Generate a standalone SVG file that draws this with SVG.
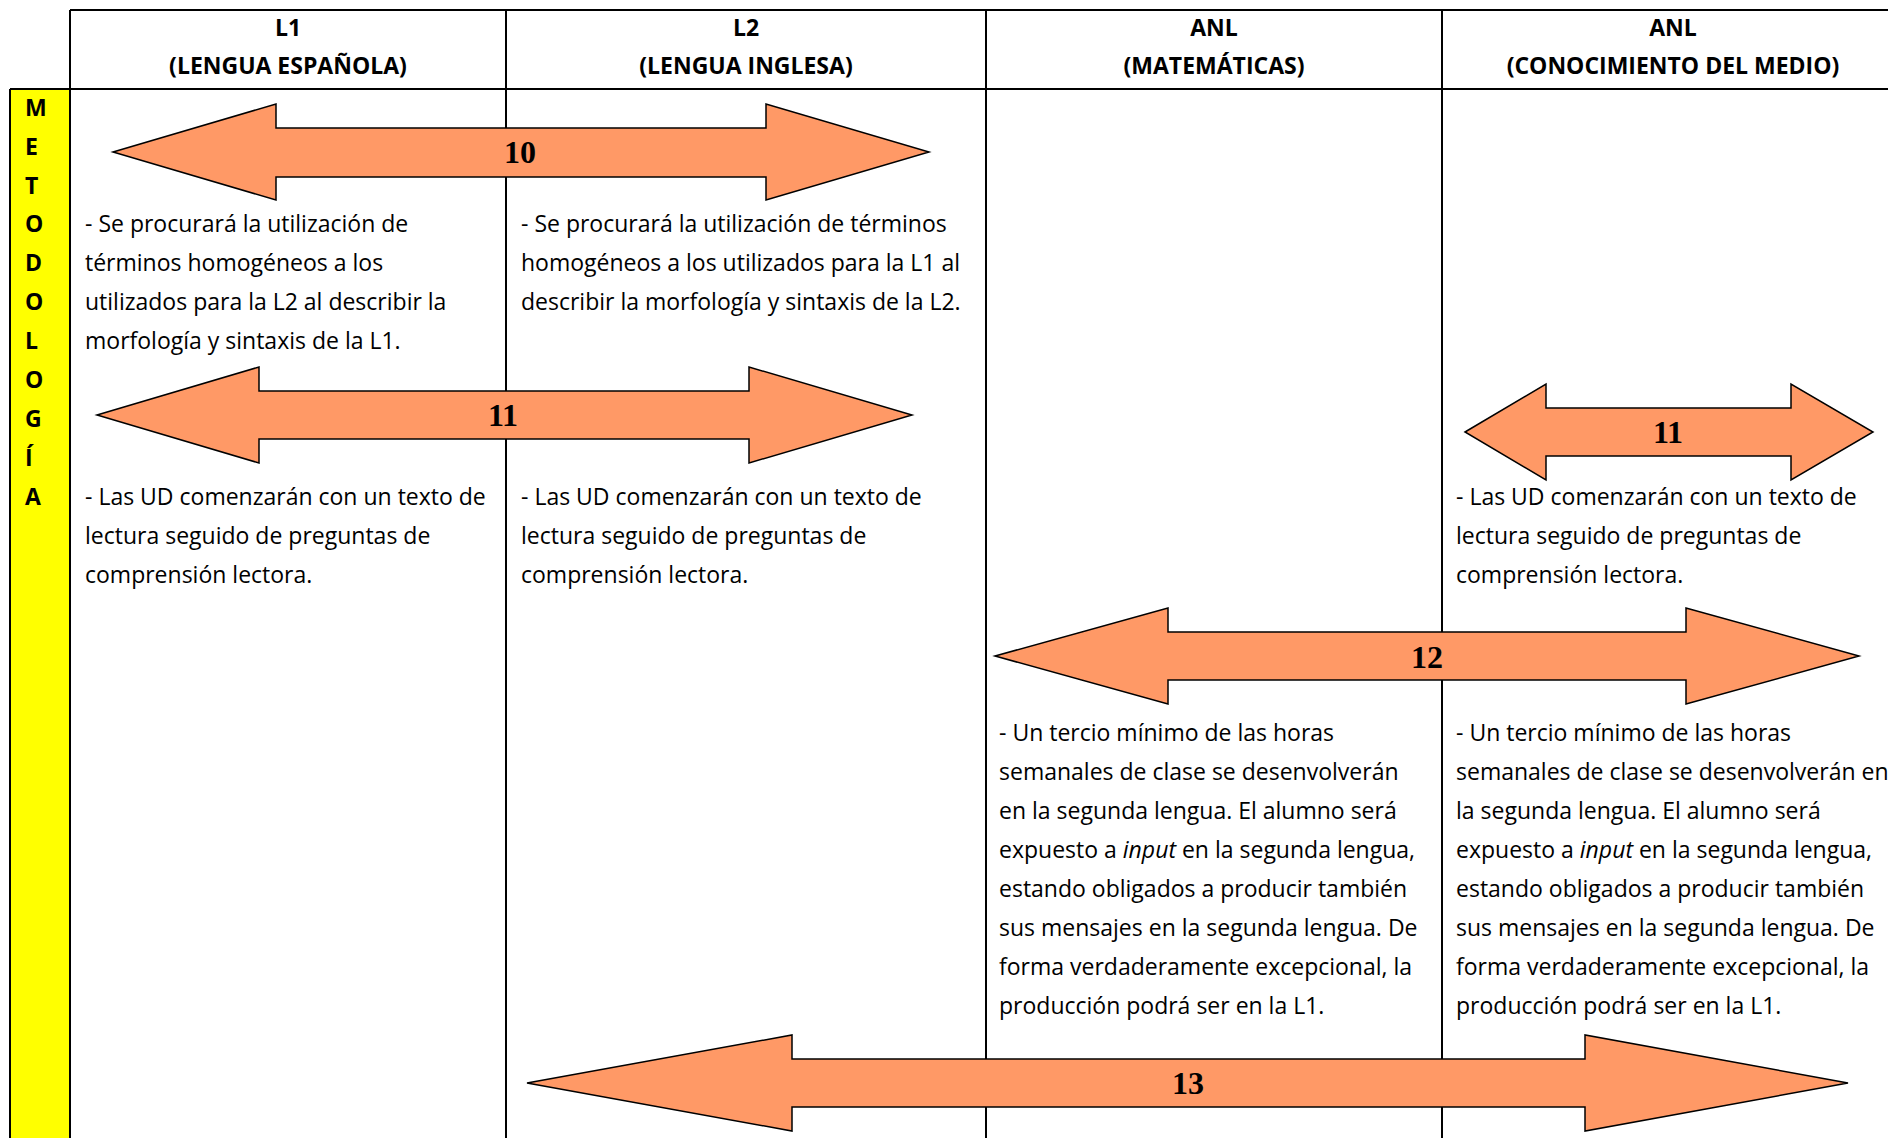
<svg xmlns="http://www.w3.org/2000/svg" width="1888" height="1138" viewBox="0 0 1888 1138">
<style>
.grid{stroke:#000;stroke-width:2;fill:none}
.hdr{font-family:'Open Sans','Noto Sans',sans-serif;font-weight:bold;font-size:23px;fill:#000;text-anchor:middle}
.vl{font-family:'Open Sans','Noto Sans',sans-serif;font-weight:bold;font-size:23px;fill:#000}
.body{font-family:'Open Sans','Noto Sans',sans-serif;font-size:23px;fill:#000}
.arrow{fill:#FF9966;stroke:#000;stroke-width:1.5;stroke-linejoin:miter}
.num{font-family:'Liberation Serif','Times New Roman',serif;font-weight:bold;font-size:32px;fill:#000;text-anchor:middle}
</style>
<rect width="1888" height="1138" fill="#fff"/>
<g id="table">
  <rect id="yellow-col" x="10" y="89" width="60" height="1060" fill="#FFFF00"/>
  <line class="grid" x1="70" y1="10" x2="1888" y2="10"/>
  <line class="grid" x1="10" y1="89" x2="1888" y2="89"/>
  <line class="grid" x1="10" y1="89" x2="10" y2="1138"/>
  <line class="grid" x1="70" y1="10" x2="70" y2="1138"/>
  <line class="grid" x1="506" y1="10" x2="506" y2="1138"/>
  <line class="grid" x1="986" y1="10" x2="986" y2="1138"/>
  <line class="grid" x1="1442" y1="10" x2="1442" y2="1138"/>
</g>
<g id="header-l1"><text class="hdr" x="288" y="36">L1</text><text class="hdr" x="288" y="74">(LENGUA ESPAÑOLA)</text></g>
<g id="header-l2"><text class="hdr" x="746" y="36">L2</text><text class="hdr" x="746" y="74">(LENGUA INGLESA)</text></g>
<g id="header-anl-mat"><text class="hdr" x="1214" y="36">ANL</text><text class="hdr" x="1214" y="74">(MATEMÁTICAS)</text></g>
<g id="header-anl-cm"><text class="hdr" x="1673" y="36">ANL</text><text class="hdr" x="1673" y="74">(CONOCIMIENTO DEL MEDIO)</text></g>
<g id="metodologia">
  <text class="vl" x="25" y="116">M</text>
  <text class="vl" x="25" y="155">E</text>
  <text class="vl" x="25" y="194">T</text>
  <text class="vl" x="25" y="232">O</text>
  <text class="vl" x="25" y="271">D</text>
  <text class="vl" x="25" y="310">O</text>
  <text class="vl" x="25" y="349">L</text>
  <text class="vl" x="25" y="388">O</text>
  <text class="vl" x="25" y="427">G</text>
  <text class="vl" x="25" y="466">Í</text>
  <text class="vl" x="25" y="505">A</text>
</g>
<g id="l1-text1">
  <text class="body" x="85" y="232">- Se procurará la utilización de</text>
  <text class="body" x="85" y="271">términos homogéneos a los</text>
  <text class="body" x="85" y="310">utilizados para la L2 al describir la</text>
  <text class="body" x="85" y="349">morfología y sintaxis de la L1.</text>
</g>
<g id="l2-text1">
  <text class="body" x="521" y="232">- Se procurará la utilización de términos</text>
  <text class="body" x="521" y="271">homogéneos a los utilizados para la L1 al</text>
  <text class="body" x="521" y="310">describir la morfología y sintaxis de la L2.</text>
</g>
<g id="l1-text2">
  <text class="body" x="85" y="505">- Las UD comenzarán con un texto de</text>
  <text class="body" x="85" y="544">lectura seguido de preguntas de</text>
  <text class="body" x="85" y="583">comprensión lectora.</text>
</g>
<g id="l2-text2">
  <text class="body" x="521" y="505">- Las UD comenzarán con un texto de</text>
  <text class="body" x="521" y="544">lectura seguido de preguntas de</text>
  <text class="body" x="521" y="583">comprensión lectora.</text>
</g>
<g id="cm-text1">
  <text class="body" x="1456" y="505">- Las UD comenzarán con un texto de</text>
  <text class="body" x="1456" y="544">lectura seguido de preguntas de</text>
  <text class="body" x="1456" y="583">comprensión lectora.</text>
</g>
<g id="mat-text2">
  <text class="body" x="999" y="741">- Un tercio mínimo de las horas</text>
  <text class="body" x="999" y="780">semanales de clase se desenvolverán</text>
  <text class="body" x="999" y="819">en la segunda lengua. El alumno será</text>
  <text class="body" x="999" y="858">expuesto a <tspan font-style="italic">input</tspan> en la segunda lengua,</text>
  <text class="body" x="999" y="897">estando obligados a producir también</text>
  <text class="body" x="999" y="936">sus mensajes en la segunda lengua. De</text>
  <text class="body" x="999" y="975">forma verdaderamente excepcional, la</text>
  <text class="body" x="999" y="1014">producción podrá ser en la L1.</text>
</g>
<g id="cm-text2">
  <text class="body" x="1456" y="741">- Un tercio mínimo de las horas</text>
  <text class="body" x="1456" y="780">semanales de clase se desenvolverán en</text>
  <text class="body" x="1456" y="819">la segunda lengua. El alumno será</text>
  <text class="body" x="1456" y="858">expuesto a <tspan font-style="italic">input</tspan> en la segunda lengua,</text>
  <text class="body" x="1456" y="897">estando obligados a producir también</text>
  <text class="body" x="1456" y="936">sus mensajes en la segunda lengua. De</text>
  <text class="body" x="1456" y="975">forma verdaderamente excepcional, la</text>
  <text class="body" x="1456" y="1014">producción podrá ser en la L1.</text>
</g>
<g id="arrows">
  <g id="arrow-10">
    <polygon class="arrow" points="113,152 276,104 276,128 766,128 766,104 929,152 766,200 766,177 276,177 276,200"/>
    <text class="num" x="520" y="163">10</text>
  </g>
  <g id="arrow-11a">
    <polygon class="arrow" points="97,415 259,367 259,391 749,391 749,367 912,415 749,463 749,439 259,439 259,463"/>
    <text class="num" x="503" y="426">11</text>
  </g>
  <g id="arrow-11b">
    <polygon class="arrow" points="1465,432 1546,384 1546,408 1791,408 1791,384 1873,432 1791,480 1791,456 1546,456 1546,480"/>
    <text class="num" x="1668" y="443">11</text>
  </g>
  <g id="arrow-12">
    <polygon class="arrow" points="995,656 1168,608 1168,632 1686,632 1686,608 1859,656 1686,704 1686,680 1168,680 1168,704"/>
    <text class="num" x="1427" y="668">12</text>
  </g>
  <g id="arrow-13">
    <polygon class="arrow" points="527,1083 792,1035 792,1059 1585,1059 1585,1035 1848,1083 1585,1131 1585,1107 792,1107 792,1131"/>
    <text class="num" x="1188" y="1094">13</text>
  </g>
</g>
</svg>
